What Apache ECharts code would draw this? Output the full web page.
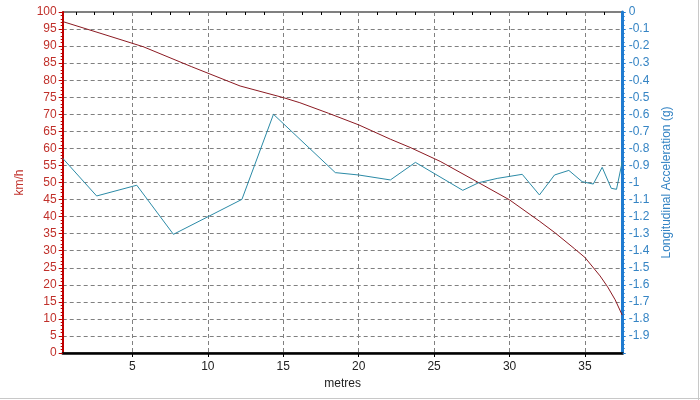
<!DOCTYPE html>
<html>
<head>
<meta charset="utf-8">
<script src="https://cdn.jsdelivr.net/npm/echarts@6/dist/echarts.min.js"></script>
<style>html,body{margin:0;padding:0;background:#fff}#c{width:700px;height:400px}</style>
</head>
<body>
<div id="c"></div>
<script>
const distSpeed = [0.38, 2.85, 5.73, 8.9, 12.14, 15.0, 16.1, 18.0, 20.0, 22.1, 23.4, 25.4, 27.85, 30.0, 32.0, 33.0, 34.3, 35.0, 36.0, 36.5, 37.0, 37.47];
const speedKmh  = [97.2, 93.8, 89.8, 84.0, 78.3, 74.9, 73.4, 70.3, 66.9, 62.7, 60.3, 56.2, 50.2, 44.9, 38.6, 35.3, 30.6, 28.0, 22.6, 19.4, 15.6, 11.1];
const distAccel = [0.38, 2.63, 5.29, 7.72, 12.26, 14.35, 18.45, 20.0, 22.1, 23.76, 26.9, 27.96, 29.18, 30.84, 31.98, 32.98, 33.93, 34.81, 35.55, 36.14, 36.74, 37.09, 37.47];
const accelG    = [-0.858, -1.079, -1.016, -1.304, -1.099, -0.600, -0.942, -0.956, -0.985, -0.882, -1.046, -1.001, -0.976, -0.952, -1.073, -0.956, -0.929, -0.995, -1.009, -0.911, -1.034, -1.040, -0.878];
const xMajorTicks = [5, 10, 15, 20, 25, 30, 35];
const xMinorTicks = [1.25, 2.5, 3.75, 6.25, 7.5, 8.75, 11.25, 12.5, 13.75, 16.25, 17.5, 18.75, 21.25, 22.5, 23.75, 26.25, 27.5, 28.75, 31.25, 32.5, 33.75, 36.25];
const xMin = 0.38, xMax = 37.5;

const font = 'Liberation Sans';
const red = '#c0302a', redLine = '#8b1a22', blue = '#1f7bd0', blueLab = '#3584c4', teal = '#2b8aa6';
const dash = {color: '#808080', width: 1, type: [4, 3]};

const chart = echarts.init(document.getElementById('c'), null, {renderer: 'canvas'});
chart.setOption({
  animation: false,
  backgroundColor: '#fff',
  grid: {left: 62.7, right: 77.3, top: 12, bottom: 47, show: true, borderColor: '#000', borderWidth: 1, backgroundColor: 'transparent'},
  xAxis: [{
    type: 'value', min: xMin, max: xMax,
    name: 'metres', nameLocation: 'middle', nameGap: 22,
    nameTextStyle: {color: '#222', fontFamily: font, fontSize: 12},
    axisLine: {show: true, lineStyle: {color: '#000', width: 2.5}},
    axisTick: {show: true, customValues: xMajorTicks, length: 4, lineStyle: {color: '#000'}},
    axisLabel: {customValues: xMajorTicks, color: '#222', fontFamily: font, fontSize: 12, margin: 8},
    splitLine: {show: true, lineStyle: dash}
  }, {
    type: 'value', min: xMin, max: xMax, position: 'bottom',
    axisLine: {show: false},
    axisTick: {show: true, customValues: xMinorTicks, length: 3, lineStyle: {color: '#000'}},
    axisLabel: {show: false},
    splitLine: {show: false}
  }],
  yAxis: [{
    type: 'value', min: 0, max: 100, interval: 5, position: 'left',
    name: 'km/h', nameLocation: 'middle', nameGap: 29,
    nameTextStyle: {color: red, fontFamily: font, fontSize: 12},
    axisLine: {show: true, lineStyle: {color: '#c00000', width: 2}},
    axisTick: {show: true, length: 4, lineStyle: {color: '#c00000'}},
    minorTick: {show: true, splitNumber: 5, length: 2, lineStyle: {color: '#c00000'}},
    axisLabel: {color: red, fontFamily: font, fontSize: 12, margin: 6},
    splitLine: {show: true, lineStyle: dash}
  }, {
    type: 'value', min: -2, max: 0, interval: 0.1, position: 'right',
    name: 'Longitudinal Acceleration (g)', nameLocation: 'middle', nameGap: 33,
    nameTextStyle: {color: blueLab, fontFamily: font, fontSize: 12},
    axisLine: {show: true, lineStyle: {color: blue, width: 3}},
    axisTick: {show: true, length: 3, lineStyle: {color: blue}},
    minorTick: {show: true, splitNumber: 4, length: 2, lineStyle: {color: blue}},
    axisLabel: {color: blueLab, fontFamily: font, fontSize: 12, margin: 6,
      formatter: v => (Math.abs(v + 2) < 1e-9 ? '' : String(Math.round(v * 10) / 10))},
    splitLine: {show: false}
  }],
  graphic: [
    {type: 'line', shape: {x1: 698.5, y1: 0, x2: 698.5, y2: 400}, style: {stroke: '#c8c8c8', lineWidth: 1}},
    {type: 'line', shape: {x1: 0, y1: 398.5, x2: 700, y2: 398.5}, style: {stroke: '#c8c8c8', lineWidth: 1}}
  ],
  series: [{
    type: 'line', xAxisIndex: 0, yAxisIndex: 0, symbol: 'none',
    data: distSpeed.map((d, i) => [d, speedKmh[i]]),
    lineStyle: {color: redLine, width: 1}
  }, {
    type: 'line', xAxisIndex: 0, yAxisIndex: 1, symbol: 'none',
    data: distAccel.map((d, i) => [d, accelG[i]]),
    lineStyle: {color: teal, width: 1}
  }]
});
</script>
</body>
</html>
